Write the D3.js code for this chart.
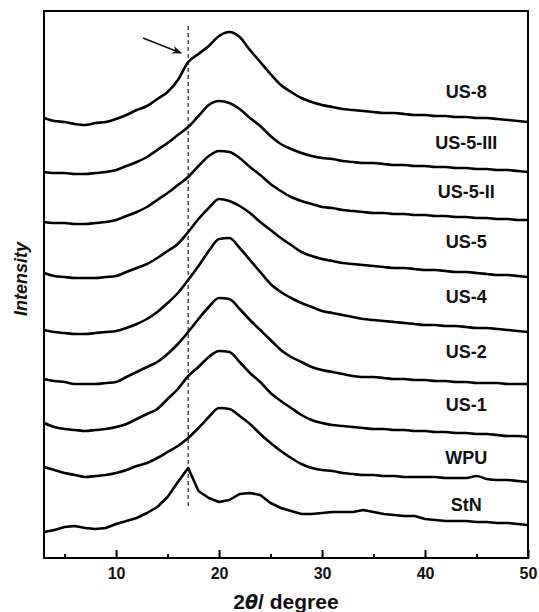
<!DOCTYPE html>
<html>
<head>
<meta charset="utf-8">
<script src="https://cdn.jsdelivr.net/npm/d3@7"></script>
<style>
  body { margin: 0; background: #fff; }
  svg text { font-family: "Liberation Sans", Arial, sans-serif; font-weight: bold; fill: #111; }
</style>
</head>
<body>
<div id="chart"></div>
<script>
const width = 539,
      height = 612;

// 2-theta grid (degrees)
const twoTheta = [3,4,5,6,7,8,9,10,11,12,13,14,15,16,17,18,19,20,21,22,23,24,25,26,
                  27,28,29,30,31,32,33,34,35,36,37,38,39,40,41,42,43,44,45,46,47,48,49,50];

// stacked intensities (a.u.)
const us8   = [440,437,436,434,433,435,436,439,443,448,452,459,466,478,496,504,512,522,526,521,508,496,484,473,
               466,460,456,453,451,449,448,447,446,445,445,444,443,443,442,442,441,441,440,440,439,438,437,436];
const us5iii = [386,385,385,384,384,385,386,388,392,396,401,408,415,423,431,442,453,457,455,449,440,432,422,414,
               409,405,402,400,399,397,396,395,395,394,393,393,392,392,391,391,390,390,389,389,388,388,387,386];
const us5ii = [336,335,335,334,334,335,336,338,342,346,351,358,365,373,381,392,402,407,406,400,391,383,374,367,
               361,357,354,351,350,348,347,346,345,345,344,344,343,343,342,342,341,341,340,340,339,339,338,338];
const us5   = [285,282,281,280,280,280,281,282,286,290,294,300,307,314,326,339,350,359,357,352,345,336,328,320,
               313,306,302,299,297,295,294,293,292,291,290,290,289,288,288,287,286,286,285,284,283,283,282,281];
const us4   = [228,226,225,224,224,225,226,227,230,234,239,246,255,265,278,292,307,319,320,310,298,286,274,266,
               260,255,251,247,245,243,241,239,238,237,236,235,234,233,233,232,232,231,230,230,229,228,227,226];
const us2   = [179,177,176,174,174,174,175,176,181,186,191,196,204,214,226,239,251,260,259,249,238,228,218,208,
               201,196,191,188,186,184,182,181,181,180,179,179,178,178,177,177,176,176,175,175,175,174,174,174];
const us1   = [135,131,129,128,127,128,129,131,134,139,144,149,159,169,182,191,201,207,206,196,185,176,165,157,
               150,143,138,135,133,132,131,130,129,129,128,128,127,127,126,126,125,125,124,124,123,122,122,121];
const wpu   = [91,88,85,83,81,82,83,85,88,92,95,100,106,112,120,130,141,150,149,142,134,124,115,107,
               100,94,90,88,87,85,84,83,83,82,82,81,81,81,81,80,80,80,82,79,78,78,77,76];
const stn   = [26,28,31,32,30,29,30,34,37,40,45,51,61,76,90,67,60,56,58,64,65,63,55,50,
               47,44,44,45,46,46,46,48,46,44,43,42,42,39,38,37,37,37,36,36,35,35,34,33];

const sampleNames = ['US-8','US-5-III','US-5-II','US-5','US-4','US-2','US-1','WPU','StN'];
const sampleSeries = [us8, us5iii, us5ii, us5, us4, us2, us1, wpu, stn];

const majorTicks = [10,20,30,40,50];
const minorTicks = [5,15,25,35,45];
const markerTheta = 17;

// label lift above curve tail (px)
const labelLift = [30,29,28,35,35,32,32,24,20];

const margin = {left: 44, right: 11, top: 11, bottom: 54};

const x = d3.scaleLinear()
            .domain([3, 50])
            .range([margin.left, width - margin.right]);

const y = d3.scaleLinear()
            .domain([0, 547])
            .range([height - margin.bottom, margin.top]);

const svg = d3.select('#chart')
              .append('svg')
              .attr('width', width)
              .attr('height', height);

const smoothLine = d3.line()
                     .x(function(d, i) { return x(twoTheta[i]); })
                     .y(function(d) { return y(d); })
                     .curve(d3.curveMonotoneX);

// crystalline sample keeps its sharp reflection
const sharpLine = d3.line()
                    .x(function(d, i) { return x(twoTheta[i]); })
                    .y(function(d) { return y(d); });

svg.append('line')
   .attr('x1', x(markerTheta)).attr('x2', x(markerTheta))
   .attr('y1', 26).attr('y2', 508)
   .attr('stroke', '#222')
   .attr('stroke-width', 1.2)
   .attr('stroke-dasharray', '4,3');

svg.selectAll('path.curve')
   .data(sampleSeries)
   .enter()
   .append('path')
   .attr('class', 'curve')
   .attr('d', function(d, i) { return i === sampleSeries.length - 1 ? sharpLine(d) : smoothLine(d); })
   .attr('fill', 'none')
   .attr('stroke', '#000')
   .attr('stroke-width', 2.6)
   .attr('stroke-linejoin', 'round');

svg.selectAll('text.label')
   .data(sampleNames)
   .enter()
   .append('text')
   .attr('class', 'label')
   .attr('x', x(44))
   .attr('y', function(d, i) {
     const s = sampleSeries[i];
     return y(s[s.length - 1]) - labelLift[i] + 6;
   })
   .attr('text-anchor', 'middle')
   .style('font-size', '18px')
   .text(function(d) { return d; });

// frame
svg.append('rect')
   .attr('x', margin.left).attr('y', margin.top)
   .attr('width', width - margin.left - margin.right)
   .attr('height', height - margin.top - margin.bottom)
   .attr('fill', 'none')
   .attr('stroke', '#000')
   .attr('stroke-width', 2);

const xAxis = d3.axisBottom(x)
                .tickValues(majorTicks)
                .tickSizeInner(-8)
                .tickSizeOuter(0)
                .tickPadding(10);

const xAxisGroup = svg.append('g')
                      .attr('transform', 'translate(0,' + (height - margin.bottom) + ')')
                      .call(xAxis);
xAxisGroup.select('.domain').remove();
xAxisGroup.selectAll('line').attr('stroke', '#000').attr('stroke-width', 2);
xAxisGroup.selectAll('text')
          .style('font-family', '"Liberation Sans", Arial, sans-serif')
          .style('font-weight', 'bold')
          .style('font-size', '16px')
          .attr('fill', '#111');

const minorAxis = d3.axisBottom(x)
                    .tickValues(minorTicks)
                    .tickSizeInner(-4)
                    .tickSizeOuter(0)
                    .tickFormat('');
const minorGroup = svg.append('g')
                      .attr('transform', 'translate(0,' + (height - margin.bottom) + ')')
                      .call(minorAxis);
minorGroup.select('.domain').remove();
minorGroup.selectAll('line').attr('stroke', '#000').attr('stroke-width', 2);

// axis titles
const xTitle = svg.append('text')
                  .attr('x', (margin.left + width - margin.right) / 2)
                  .attr('y', 609)
                  .attr('text-anchor', 'middle')
                  .style('font-size', '21px');
xTitle.append('tspan').text('2');
xTitle.append('tspan').style('font-style', 'italic').style('font-family', '"DejaVu Sans", sans-serif').style('font-size', '19px').text('θ');
xTitle.append('tspan').text('/ degree');

svg.append('text')
   .attr('transform', 'translate(27,279) rotate(-90)')
   .attr('text-anchor', 'middle')
   .style('font-size', '18px')
   .style('font-style', 'italic')
   .text('Intensity');

// arrow pointing at the shoulder
svg.append('defs').append('marker')
   .attr('id', 'head')
   .attr('viewBox', '0 0 10 10')
   .attr('refX', 9).attr('refY', 5)
   .attr('markerWidth', 10).attr('markerHeight', 10)
   .attr('markerUnits', 'userSpaceOnUse')
   .attr('orient', 'auto')
   .append('path')
   .attr('d', 'M0,1 L10,5 L0,9 L3,5 Z')
   .attr('fill', '#111');

svg.append('line')
   .attr('x1', 143).attr('y1', 38)
   .attr('x2', 181).attr('y2', 53)
   .attr('stroke', '#111')
   .attr('stroke-width', 1.8)
   .attr('marker-end', 'url(#head)');
</script>
</body>
</html>
